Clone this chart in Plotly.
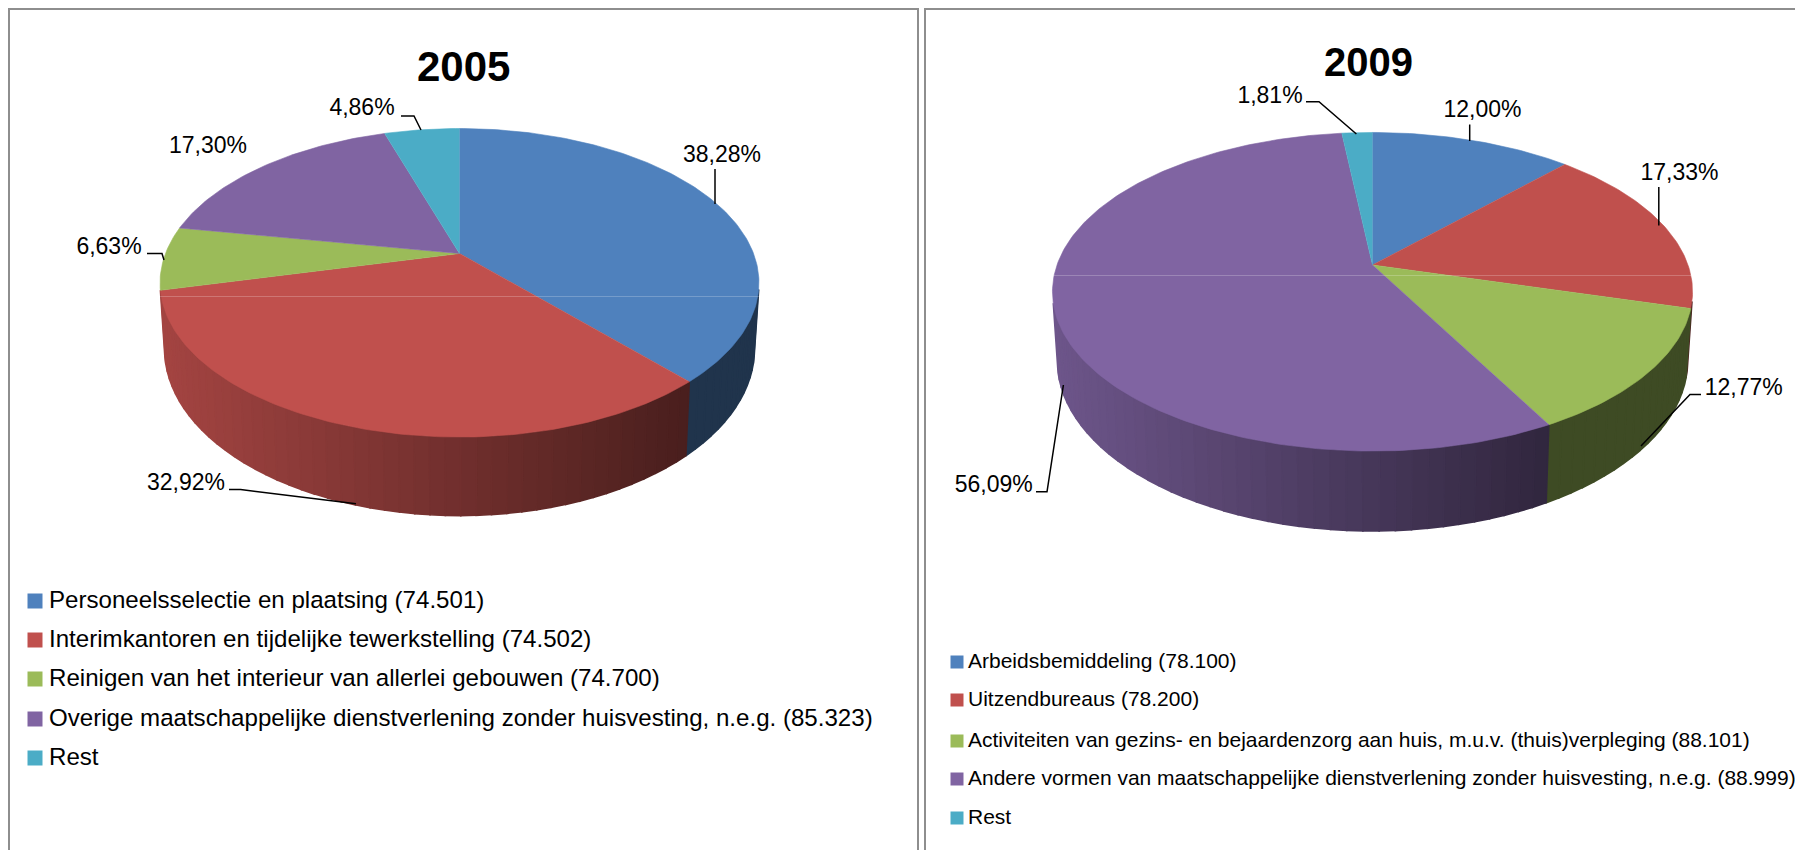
import math
import plotly.graph_objects as go

# ---- data ----
labels_2005 = ["Personeelsselectie en plaatsing (74.501)",
               "Interimkantoren en tijdelijke tewerkstelling (74.502)",
               "Reinigen van het interieur van allerlei gebouwen (74.700)",
               "Overige maatschappelijke dienstverlening zonder huisvesting, n.e.g. (85.323)",
               "Rest"]
values_2005 = [38.28, 32.92, 6.63, 17.30, 4.86]
labels_2009 = ["Arbeidsbemiddeling (78.100)",
               "Uitzendbureaus (78.200)",
               "Activiteiten van gezins- en bejaardenzorg aan huis, m.u.v. (thuis)verpleging (88.101)",
               "Andere vormen van maatschappelijke dienstverlening zonder huisvesting, n.e.g. (88.999)",
               "Rest"]
values_2009 = [12.00, 17.33, 12.77, 56.09, 1.81]
colors = ["#4F81BD", "#C0504D", "#9BBB59", "#8064A2", "#4BACC6"]

# ---- styling / layout ----
W, H = 1795, 850
FONT = "Liberation Sans"
FONT_LEG = "Liberation Sans Narrow, Liberation Sans"
BORDER = "#8E8E8E"

P05 = dict(cx=459.5, cy=253.5, r=294, a=148.7, p=0.19, d=63.6, s=0.985, seam=296.5)
P09 = dict(cx=1372.5, cy=265, r=315.5, a=154.8, p=0.168, d=66.5, s=0.985, seam=275.5)
SIDE_FROM, SIDE_TO = 104, 256.5   # part of the rim where the side wall shows


def rim(g, deg, lower=False):
    t = math.radians(deg)
    u, v = math.sin(t), -math.cos(t)
    k = 1 / (1 - g["p"] * v)
    x = g["r"] * u * k
    y = g["cy"] + g["a"] * v * k
    if lower:
        x *= g["s"]
        y += g["d"] * k
    return g["cx"] + x, y


def shade(hexc, f):
    return "rgb(%d,%d,%d)" % tuple(round(int(hexc[i:i + 2], 16) * f) for i in (1, 3, 5))


fig = go.Figure()


def draw_pie(g, values, names):
    total = sum(values)
    edges = [0]
    for v in values:
        edges.append(edges[-1] + v / total * 360)
    x_left = g["cx"] - g["r"]
    # side wall
    for i, v in enumerate(values):
        a0, a1 = edges[i], edges[i + 1]
        front = a0 <= 180 < a1
        x_end = rim(g, a0)[0]
        n = max(1, math.ceil((a1 - a0) / 2.5))
        order = sorted(range(n), key=lambda j: -abs((a0 + (a1 - a0) * (j + .5) / n) - 180))
        for j in order:
            b0 = a0 + (a1 - a0) * j / n
            b1 = a0 + (a1 - a0) * (j + 1) / n
            mid = (b0 + b1) / 2
            if not SIDE_FROM < mid < SIDE_TO:
                continue
            p = [rim(g, b0), rim(g, b1), rim(g, b1, True), rim(g, b0, True)]
            xm = rim(g, mid)[0]
            f = 0.40
            if front:
                f = 0.85 - 0.47 * min(1, max(0, (xm - x_left) / (x_end - x_left)))
            c = shade(colors[i], f)
            fig.add_trace(go.Scatter(
                x=[q[0] for q in p] + [p[0][0]], y=[q[1] for q in p] + [p[0][1]],
                mode="lines", fill="toself",
                fillcolor=c, line=dict(color=c, width=1.6), hoverinfo="skip", showlegend=False))
    # top faces
    for i, v in enumerate(values):
        a0, a1 = edges[i], edges[i + 1]
        n = max(2, math.ceil(a1 - a0))
        pts = [(g["cx"], g["cy"])] + [rim(g, a0 + (a1 - a0) * j / n) for j in range(n + 1)]
        fig.add_trace(go.Scatter(
            x=[q[0] for q in pts], y=[q[1] for q in pts], mode="lines", fill="toself",
            fillcolor=colors[i], line=dict(color=colors[i], width=0.6),
            name=names[i], text=f"{v:.2f}%", hoverinfo="name+text", showlegend=False))
    # faint seam in the surface
    half = g["r"] / math.sqrt(1 - g["p"] ** 2)
    fig.add_trace(go.Scatter(
        x=[g["cx"] - half, g["cx"] + half], y=[g["seam"], g["seam"]], mode="lines",
        line=dict(color="rgba(255,255,255,0.22)", width=1), hoverinfo="skip", showlegend=False))


draw_pie(P05, values_2005, labels_2005)
draw_pie(P09, values_2009, labels_2009)


def fmt(v):
    return f"{v:.2f}%".replace(".", ",")


# percent labels: (centre x, centre y) and leader line polyline, in slice order
LABELS_05 = [
    (722, 156, [(715, 169), (715, 204)]),
    (186, 484, [(229, 489.5), (240.6, 489.5), (356, 503.7)]),
    (109, 248, [(147, 253.5), (162, 253.5), (164, 260)]),
    (208, 147, None),
    (362, 109.5, [(401, 116), (414, 116), (421, 130)]),
]
LABELS_09 = [
    (1482.5, 111, [(1469.7, 124.5), (1469.7, 141)]),
    (1679.5, 174.6, [(1658.8, 187), (1658.8, 225.5)]),
    (1743.7, 389.6, [(1701, 394.6), (1690, 394.6), (1641, 446)]),
    (993.7, 486, [(1036, 491.8), (1047, 491.8), (1063.4, 385)]),
    (1270, 97.4, [(1306, 101.7), (1319, 101.7), (1356.4, 134)]),
]

for vals, lab in ((values_2005, LABELS_05), (values_2009, LABELS_09)):
    fig.add_trace(go.Scatter(
        x=[l[0] for l in lab], y=[l[1] for l in lab], mode="text",
        text=[fmt(v) for v in vals], textposition="middle center",
        textfont=dict(family=FONT, size=23, color="#000000"),
        hoverinfo="skip", showlegend=False))
    for l in lab:
        if l[2]:
            fig.add_trace(go.Scatter(
                x=[q[0] for q in l[2]], y=[q[1] for q in l[2]], mode="lines",
                line=dict(color="#000000", width=1.5), hoverinfo="skip", showlegend=False))


# legends
def draw_legend(names, sq_x, txt_x, ys, size, sq):
    fig.add_trace(go.Scatter(
        x=[sq_x] * len(names), y=[y + 1 for y in ys], mode="markers",
        marker=dict(symbol="square", size=sq, color=colors, line=dict(width=0)),
        hoverinfo="skip", showlegend=False))
    fig.add_trace(go.Scatter(
        x=[txt_x] * len(names), y=[y + 2 for y in ys], mode="text", text=names,
        textposition="middle right",
        textfont=dict(family=FONT_LEG, size=size, color="#000000"),
        hoverinfo="skip", showlegend=False))


draw_legend(labels_2005, 35, 49, [600, 639, 678, 718, 757], 24.1, 15)
draw_legend(labels_2009, 957, 968, [661, 699, 740, 778, 817], 21, 13)

# titles
fig.add_annotation(x=463, y=66, xref="x", yref="y", text="<b>2005</b>", showarrow=False,
                   font=dict(family=FONT, size=42, color="#000000"))
fig.add_annotation(x=1368, y=62, xref="x", yref="y", text="<b>2009</b>", showarrow=False,
                   font=dict(family=FONT, size=40, color="#000000"))

# panel frames
for x0, x1 in ((9, 918), (925, 1800)):
    fig.add_shape(type="rect", x0=x0, x1=x1, y0=9, y1=860, xref="x", yref="y",
                  line=dict(color=BORDER, width=2), fillcolor="rgba(0,0,0,0)", layer="below")

fig.update_layout(
    width=W, height=H, autosize=False, margin=dict(l=0, r=0, t=0, b=0),
    paper_bgcolor="white", plot_bgcolor="white", showlegend=False,
    xaxis=dict(range=[0, W], visible=False, fixedrange=True),
    yaxis=dict(range=[H, 0], visible=False, fixedrange=True),
)
fig.write_html("out.html", config={"displayModeBar": False},
               post_script="document.documentElement.style.overflow='hidden';document.body.style.margin='0';")
